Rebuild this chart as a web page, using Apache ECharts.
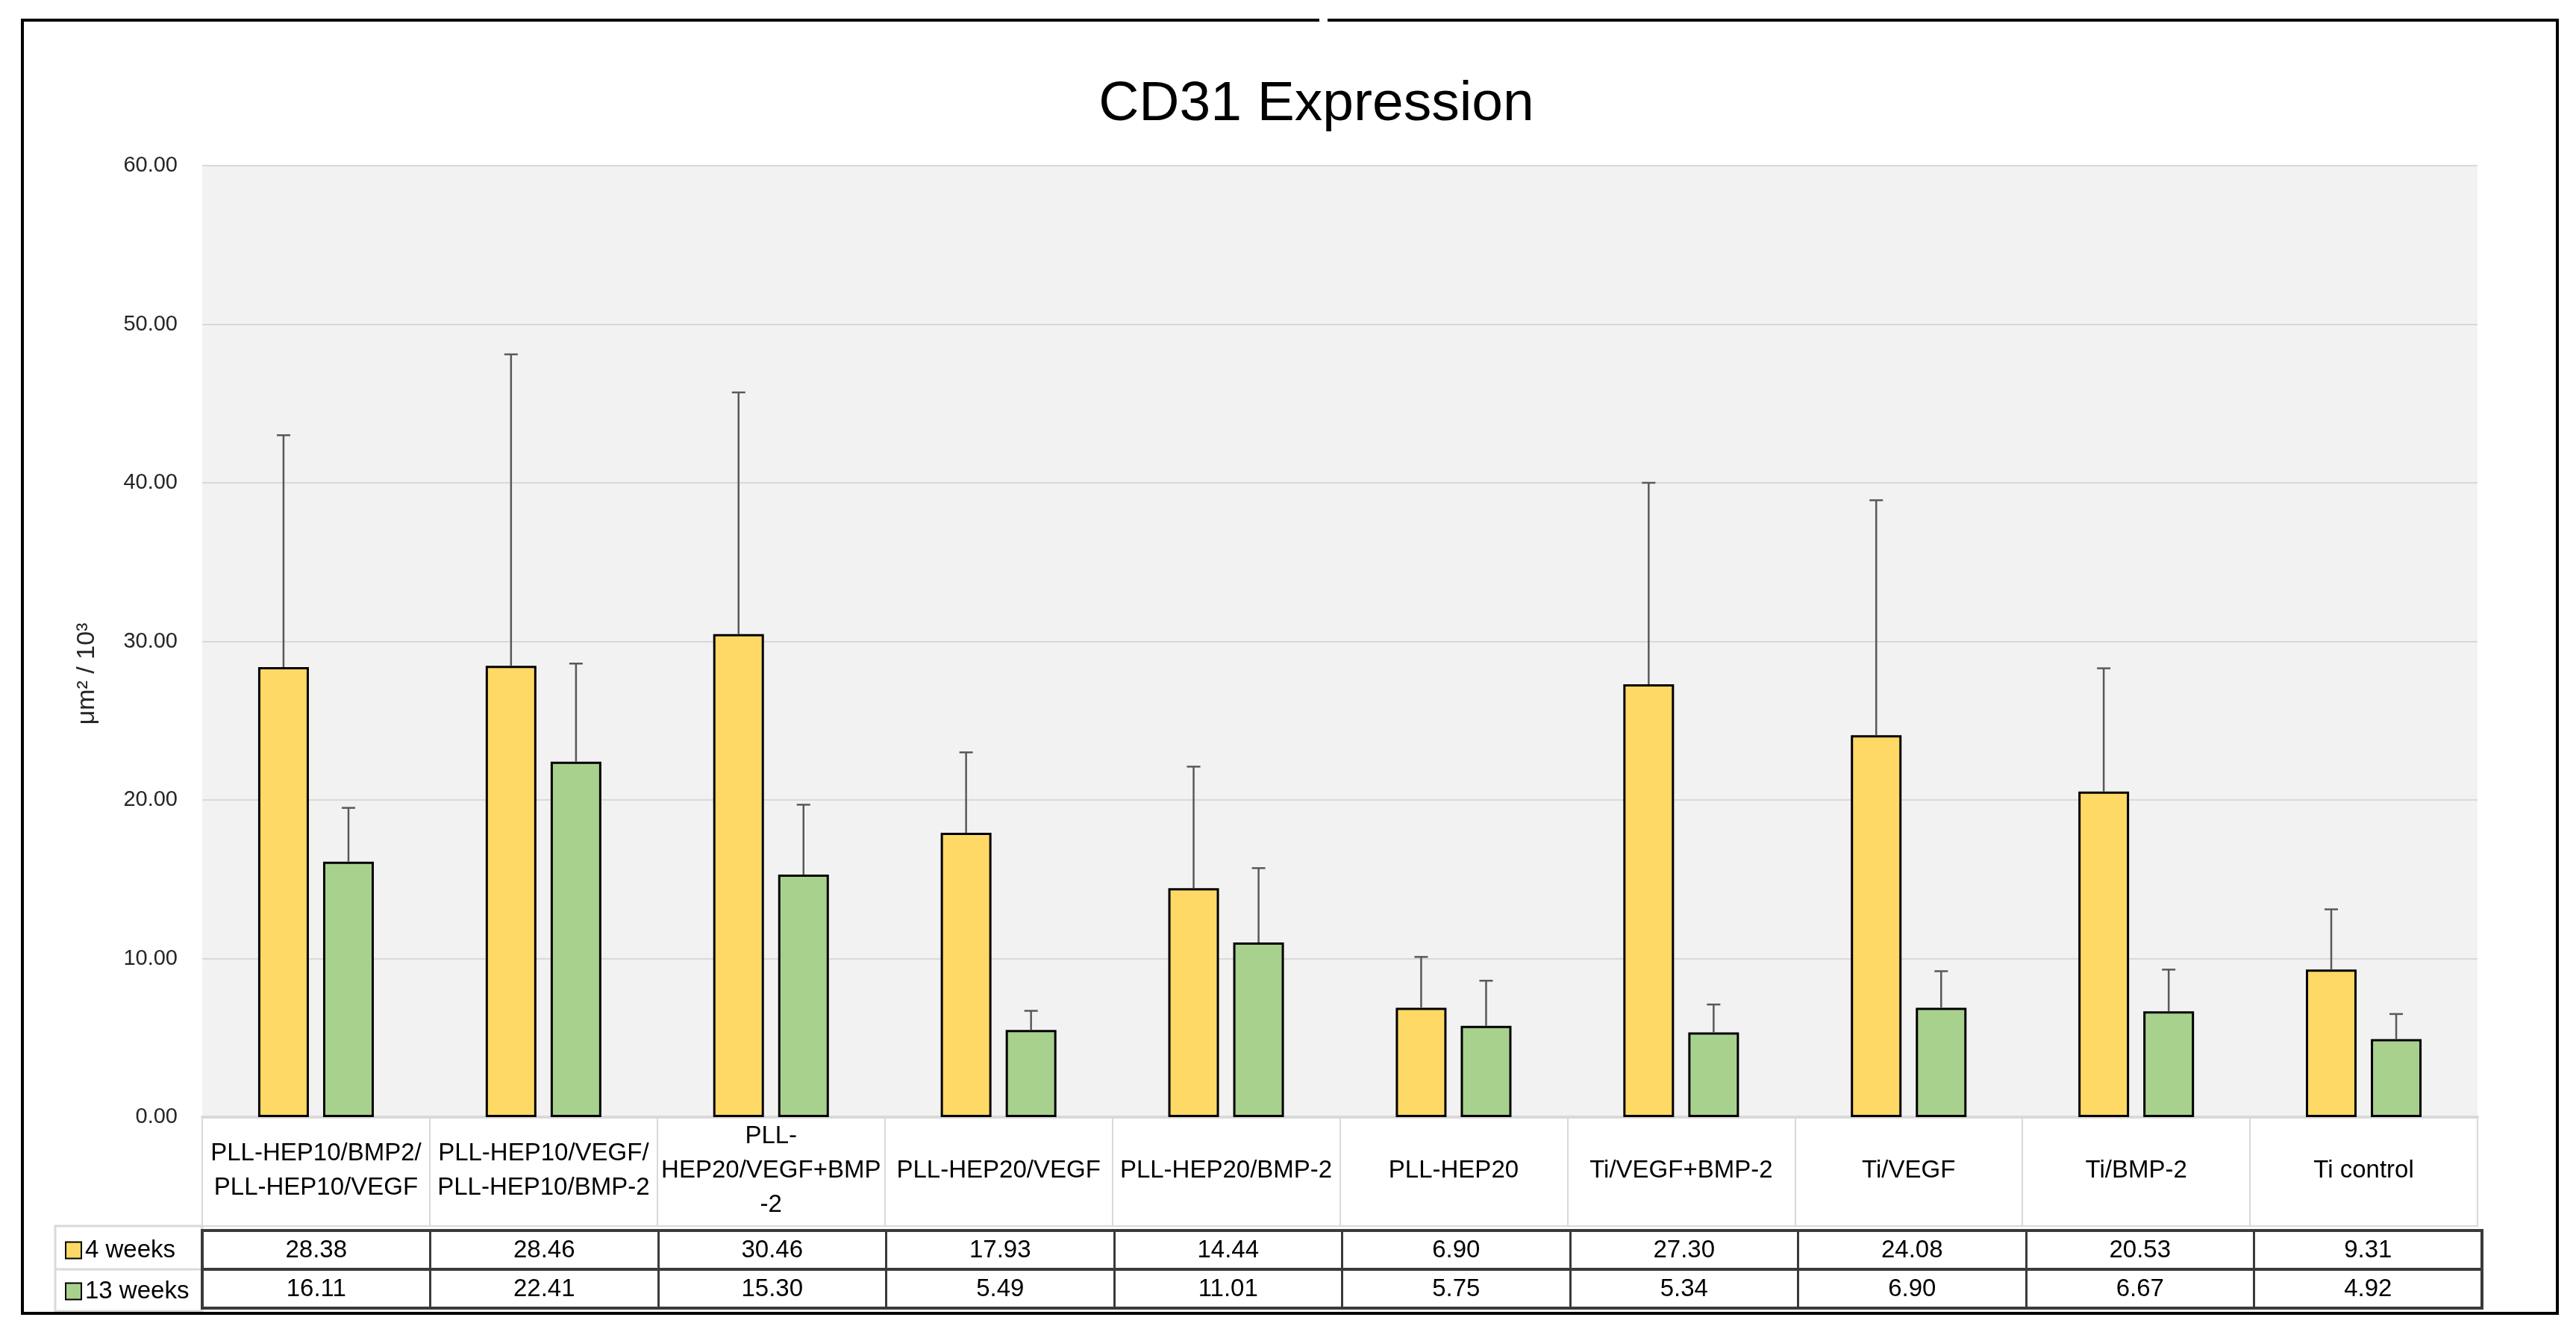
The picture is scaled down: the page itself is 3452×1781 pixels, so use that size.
<!DOCTYPE html>
<html>
<head>
<meta charset="utf-8">
<script src="https://cdn.jsdelivr.net/npm/echarts@6/dist/echarts.min.js"></script>
<style>
html,body{margin:0;padding:0;background:#fff;}
#c{width:3452px;height:1781px;}
</style>
</head>
<body>
<div id="c"></div>
<script>
const categories = ['PLL-HEP10/BMP2/\nPLL-HEP10/VEGF', 'PLL-HEP10/VEGF/\nPLL-HEP10/BMP-2', 'PLL-\nHEP20/VEGF+BMP\n-2', 'PLL-HEP20/VEGF', 'PLL-HEP20/BMP-2', 'PLL-HEP20', 'Ti/VEGF+BMP-2', 'Ti/VEGF', 'Ti/BMP-2', 'Ti control'];
const seriesNames = ['4 weeks', '13 weeks'];
const weeks4 = [28.38, 28.46, 30.46, 17.93, 14.44, 6.90, 27.30, 24.08, 20.53, 9.31];
const weeks13 = [16.11, 22.41, 15.30, 5.49, 11.01, 5.75, 5.34, 6.90, 6.67, 4.92];
const errTop4 = [43.0, 48.1, 45.7, 23.0, 22.1, 10.1, 40.0, 38.9, 28.3, 13.1];
const errTop13 = [19.5, 28.6, 19.7, 6.7, 15.7, 8.6, 7.1, 9.2, 9.3, 6.5];
const yTicks = {min: 0, max: 60, interval: 10};

const FONT = "'Liberation Sans', Arial, sans-serif";
const BAR_W = 68, BAR_GAP = 0.28;
const OFF = (BAR_W + BAR_W * BAR_GAP) / 2;
const L = 271, R = 3452 - 3320;

const chart = echarts.init(document.getElementById('c'), null, {renderer: 'canvas'});

function errRender(offset) {
  return function (params, api) {
    const x = api.value(0), v = api.value(1), t = api.value(2);
    const p0 = api.coord([x, v]);
    const p1 = api.coord([x, t]);
    const cx = p0[0] + offset;
    const st = {stroke: '#595959', lineWidth: 2.5};
    return {type: 'group', children: [
      {type: 'line', shape: {x1: cx, y1: p0[1], x2: cx, y2: p1[1]}, style: st},
      {type: 'line', shape: {x1: cx - 9, y1: p1[1], x2: cx + 9, y2: p1[1]}, style: st}
    ]};
  };
}

const hiddenY = (g) => ({type: 'value', gridIndex: g, show: false, min: 0, max: 1});
const tableX = (g, fmt, border) => ({
  type: 'category', gridIndex: g, data: categories, position: 'bottom',
  axisLine: {show: false}, axisTick: {show: false},
  axisLabel: {show: true, interval: 0, inside: true, margin: fmt.margin, verticalAlign: 'middle',
    fontFamily: FONT, fontSize: 33, color: '#000', lineHeight: 46, formatter: fmt.f},
  splitLine: {show: true, interval: 0, lineStyle: {color: border.color, width: border.width}}
});

const option = {
  backgroundColor: '#fff',
  animation: false,
  title: {
    text: 'CD31 Expression', left: 1759, top: 98, textAlign: 'center',
    textStyle: {fontFamily: FONT, fontSize: 75, fontWeight: 'normal', color: '#000'}
  },
  legend: {
    data: seriesNames, orient: 'vertical', left: 82, top: 1654,
    itemWidth: 21, itemHeight: 22, itemGap: 22,
    icon: 'rect',
    itemStyle: {borderColor: '#000', borderWidth: 2},
    textStyle: {fontFamily: FONT, fontSize: 33, color: '#000'}
  },
  grid: [
    {left: L, right: R, top: 222, bottom: 1781 - 1497, show: true, backgroundColor: '#F2F2F2', borderWidth: 0},
    {left: L, right: R, top: 1497, bottom: 1781 - 1643, show: true, backgroundColor: '#fff', borderColor: '#D9D9D9', borderWidth: 2},
    {left: L, right: R - 6, top: 1649, bottom: 1781 - 1701, show: true, backgroundColor: '#fff', borderColor: '#3a3a3a', borderWidth: 4},
    {left: L, right: R - 6, top: 1701, bottom: 1781 - 1753, show: true, backgroundColor: '#fff', borderColor: '#3a3a3a', borderWidth: 4}
  ],
  xAxis: [
    {type: 'category', gridIndex: 0, data: categories,
      axisLine: {show: true, lineStyle: {color: '#D9D9D9', width: 4}},
      axisTick: {show: false}, axisLabel: {show: false}, splitLine: {show: false}},
    tableX(1, {margin: 74, f: (v) => v}, {color: '#D9D9D9', width: 2}),
    tableX(2, {margin: 25, f: (v, i) => weeks4[i].toFixed(2)}, {color: '#3a3a3a', width: 3}),
    tableX(3, {margin: 25, f: (v, i) => weeks13[i].toFixed(2)}, {color: '#3a3a3a', width: 3})
  ],
  yAxis: [
    {type: 'value', gridIndex: 0, min: yTicks.min, max: yTicks.max, interval: yTicks.interval,
      axisLine: {show: false}, axisTick: {show: false},
      axisLabel: {formatter: (v) => v.toFixed(2), fontFamily: FONT, fontSize: 29, color: '#262626', margin: 33},
      splitLine: {show: true, lineStyle: {color: '#D9D9D9', width: 2}}},
    hiddenY(1), hiddenY(2), hiddenY(3)
  ],
  series: [
    {name: seriesNames[0], type: 'bar', xAxisIndex: 0, yAxisIndex: 0, data: weeks4,
      barWidth: BAR_W, barGap: (BAR_GAP * 100) + '%',
      itemStyle: {color: '#FFD966', borderColor: '#000', borderWidth: 3}},
    {name: seriesNames[1], type: 'bar', xAxisIndex: 0, yAxisIndex: 0, data: weeks13,
      barWidth: BAR_W, barGap: (BAR_GAP * 100) + '%',
      itemStyle: {color: '#A9D18E', borderColor: '#000', borderWidth: 3}},
    {type: 'custom', xAxisIndex: 0, yAxisIndex: 0, renderItem: errRender(-OFF), z: 3,
      data: categories.map((c, i) => [i, weeks4[i], errTop4[i]]), encode: {x: 0, y: [1, 2]}},
    {type: 'custom', xAxisIndex: 0, yAxisIndex: 0, renderItem: errRender(OFF), z: 3,
      data: categories.map((c, i) => [i, weeks13[i], errTop13[i]]), encode: {x: 0, y: [1, 2]}}
  ],
  graphic: [
    {type: 'text', x: 117, y: 903, rotation: Math.PI / 2,
      style: {text: 'μm² / 10³', fontFamily: FONT, fontSize: 34, fill: '#262626', textAlign: 'center', textVerticalAlign: 'middle'}},
    {type: 'rect', shape: {x: 74, y: 1643, width: L - 74, height: 1757 - 1643},
      style: {fill: 'none', stroke: '#D9D9D9', lineWidth: 3}, z: -1},
    {type: 'line', shape: {x1: 74, y1: 1701, x2: L, y2: 1701}, style: {stroke: '#D9D9D9', lineWidth: 3}, z: -1},
    {type: 'polyline', shape: {points: [[1768, 27], [30, 27], [30, 1760], [3427, 1760], [3427, 27], [1779, 27]]},
      style: {fill: 'none', stroke: '#000', lineWidth: 4}}
  ]
};
chart.setOption(option);
</script>
</body>
</html>
